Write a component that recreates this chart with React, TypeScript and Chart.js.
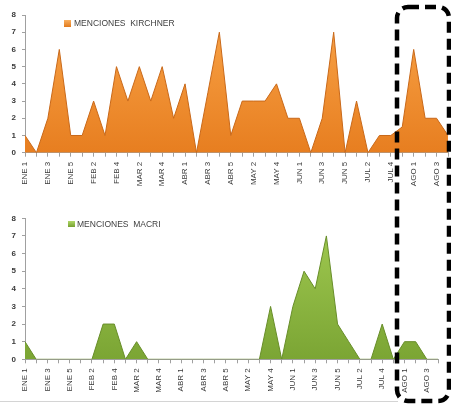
import React, { useEffect, useRef } from "react";
import { Chart, registerables } from "chart.js";

Chart.register(...registerables);

const categories = [
  "ENE 1", "ENE 2", "ENE 3", "ENE 4", "ENE 5",
  "FEB 1", "FEB 2", "FEB 3", "FEB 4",
  "MAR 1", "MAR 2", "MAR 3", "MAR 4", "MAR 5",
  "ABR 1", "ABR 2", "ABR 3", "ABR 4", "ABR 5",
  "MAY 1", "MAY 2", "MAY 3", "MAY 4", "MAY 5",
  "JUN 1", "JUN 2", "JUN 3", "JUN 4", "JUN 5",
  "JUL 1", "JUL 2", "JUL 3", "JUL 4", "JUL 5",
  "AGO 1", "AGO 2", "AGO 3", "AGO 4",
];

const kirchner = [1, 0, 2, 6, 1, 1, 3, 1, 5, 3, 5, 3, 5, 2, 4, 0, 3.5, 7, 1, 3, 3, 3, 4, 2, 2, 0, 2, 7, 0, 3, 0, 1, 1, 1.5, 6, 2, 2, 1];
const macri = [1, 0, 0, 0, 0, 0, 0, 2, 2, 0, 1, 0, 0, 0, 0, 0, 0, 0, 0, 0, 0, 0, 3, 0, 3, 5, 4, 7, 2, 1, 0, 0, 2, 0, 1, 1, 0, 0];

const yTicks = [0, 1, 2, 3, 4, 5, 6, 7, 8];

const FONT = "'Liberation Sans', Arial, sans-serif";

function makeChart(
  canvas: HTMLCanvasElement,
  data: number[],
  label: string,
  colors: { top: string; bottom: string; border: string },
  padTop: number,
  padRight: number,
  xHeight: number
) {
  return new Chart(canvas, {
    type: "line",
    data: {
      labels: categories,
      datasets: [
        {
          label,
          data,
          fill: "origin",
          tension: 0,
          pointRadius: 0,
          borderWidth: 1,
          borderColor: colors.border,
          backgroundColor: (ctx: any) => {
            const chart = ctx.chart;
            const area = chart.chartArea;
            if (!area) return colors.bottom;
            const g = chart.ctx.createLinearGradient(0, area.top, 0, area.bottom);
            g.addColorStop(0, colors.top);
            g.addColorStop(1, colors.bottom);
            return g;
          },
        },
      ],
    },
    options: {
      animation: false,
      responsive: false,
      maintainAspectRatio: false,
      layout: { padding: { top: padTop, right: padRight, left: 0, bottom: 0 } },
      plugins: { legend: { display: false }, tooltip: { enabled: false } },
      scales: {
        x: {
          type: "category",
          offset: false,
          grid: {
            display: true,
            drawOnChartArea: false,
            drawTicks: true,
            tickLength: 4,
            color: "#a0a0a0",
          },
          border: { display: true, color: "#a0a0a0", width: 1 },
          ticks: {
            autoSkip: false,
            maxRotation: 90,
            minRotation: 90,
            padding: 5,
            color: "#3a3a3a",
            font: { family: FONT, size: 8 },
            callback: (_v: any, i: number) => (i % 2 === 0 ? categories[i] : ""),
          },
          afterFit: (s: any) => {
            s.height = xHeight;
            s.paddingLeft = 0;
            s.paddingRight = 0;
          },
        },
        y: {
          min: yTicks[0],
          max: yTicks[yTicks.length - 1],
          grid: {
            display: true,
            drawOnChartArea: false,
            drawTicks: true,
            tickLength: 3,
            color: "#a0a0a0",
          },
          border: { display: true, color: "#a0a0a0", width: 1 },
          afterBuildTicks: (s: any) => {
            s.ticks = yTicks.map((v) => ({ value: v }));
          },
          ticks: {
            padding: 6,
            color: "#3a3a3a",
            font: { family: FONT, size: 8, weight: "bold" },
          },
          afterFit: (s: any) => {
            s.width = 25;
            s.paddingTop = 0;
            s.paddingBottom = 0;
          },
        },
      },
    },
  } as any);
}

export default function App() {
  const topRef = useRef<HTMLCanvasElement>(null);
  const botRef = useRef<HTMLCanvasElement>(null);

  useEffect(() => {
    const c1 = makeChart(
      topRef.current!,
      kirchner,
      "MENCIONES  KIRCHNER",
      { top: "#F9A448", bottom: "#E77E20", border: "#C9691A" },
      15,
      3,
      198 - 152.7
    );
    const c2 = makeChart(
      botRef.current!,
      macri,
      "MENCIONES  MACRI",
      { top: "#A2CB52", bottom: "#7BA534", border: "#688E2A" },
      18.3,
      13,
      204 - 159.3
    );
    return () => {
      c1.destroy();
      c2.destroy();
    };
  }, []);

  const legendText: React.CSSProperties = {
    position: "absolute",
    fontFamily: FONT,
    fontSize: 8.5,
    color: "#404040",
    whiteSpace: "pre",
    lineHeight: "10px",
  };

  return (
    <div
      style={{
        position: "absolute",
        left: 0,
        top: 0,
        width: 451,
        height: 406,
        background: "#ffffff",
        overflow: "hidden",
      }}
    >
      <canvas
        ref={topRef}
        width={451}
        height={198}
        style={{ position: "absolute", left: 0, top: 0, width: 451, height: 198 }}
      />
      <canvas
        ref={botRef}
        width={451}
        height={204}
        style={{ position: "absolute", left: 0, top: 200, width: 451, height: 204 }}
      />
      <div
        style={{
          position: "absolute",
          left: 64,
          top: 20,
          width: 7,
          height: 7,
          background: "linear-gradient(#F9B060, #E27A1C)",
        }}
      />
      <div style={{ ...legendText, left: 74, top: 18 }}>MENCIONES  KIRCHNER</div>
      <div
        style={{
          position: "absolute",
          left: 68,
          top: 221,
          width: 7,
          height: 6,
          background: "linear-gradient(#B0D868, #76A030)",
        }}
      />
      <div style={{ ...legendText, left: 77, top: 219 }}>MENCIONES  MACRI</div>
      <div
        style={{
          position: "absolute",
          left: 0,
          top: 401,
          width: 398,
          height: 1,
          background: "#d4d4d4",
        }}
      />
      <svg
        width={451}
        height={406}
        style={{ position: "absolute", left: 0, top: 0, pointerEvents: "none" }}
      >
        <rect
          x={397}
          y={7}
          width={52}
          height={394}
          rx={11}
          ry={11}
          fill="none"
          stroke="#000000"
          strokeWidth={4.5}
          strokeDasharray="11 6"
        />
      </svg>
    </div>
  );
}
